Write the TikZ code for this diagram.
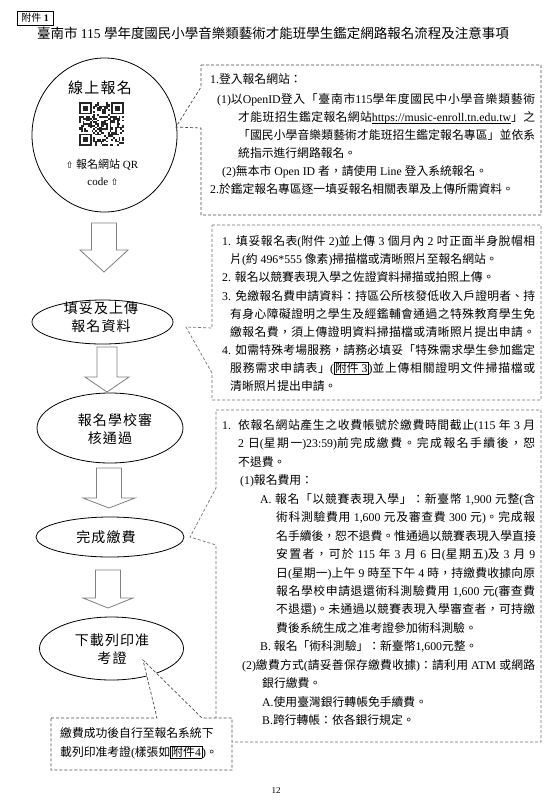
\documentclass[tikz,border=0pt]{standalone}
\usepackage{fontspec}
\usetikzlibrary{shapes.geometric}
\setmainfont{Liberation Serif}
\newfontfamily\cjkfam{Noto Sans CJK TC}
\newfontfamily\cjkwide[LetterSpace=8]{Noto Sans CJK TC}
\newfontfamily\symfam{DejaVu Sans}
\XeTeXinterchartokenstate=1
\newXeTeXintercharclass\CJKcls
\newcount\cjkc
\newcommand\cjkrange[2]{\cjkc=#1\relax\loop\XeTeXcharclass\cjkc=\CJKcls\relax\advance\cjkc by 1\relax\ifnum\cjkc<#2\relax\repeat}
\cjkrange{"3000}{"3040}
\cjkrange{"4E00}{"A000}
\cjkrange{"FF00}{"FFF0}
\XeTeXinterchartoks 0 \CJKcls = {\cjkfam}
\XeTeXinterchartoks 4095 \CJKcls = {\cjkfam}
\XeTeXinterchartoks \CJKcls 0 = {\rmfamily}
\XeTeXinterchartoks \CJKcls 4095 = {\rmfamily}
\XeTeXinterchartoks \CJKcls \CJKcls = {\hskip 0pt plus 2pt\relax}
\newcommand\kbox[1]{{\setlength\fboxsep{0.6pt}\setlength\fboxrule{0.5pt}\fbox{#1}}}
\newsavebox\ulbox
\newcommand\ulink[1]{\sbox\ulbox{\rmfamily #1}\rlap{\rule[-1.6pt]{\wd\ulbox}{0.55pt}}\usebox\ulbox}
\newcommand\setfs[2]{\XeTeXinterchartokenstate=1 \fontsize{#1}{#2}\selectfont}
\newcommand\txtline[4]{\node[cline] (#1) at (#2,#3) {#4};}
\newcommand\jtxtline[4]{\node[cline] (#1) at (#2,#3) {\hbox to \dimexpr 535pt-#2pt\relax{#4}};}
\newcommand\blockarrow[6]{\draw[barr] (#1-#3,#2) -- (#1+#3,#2) -- (#1+#3,#4) -- (#1+#5,#4) -- (#1,#6) -- (#1-#5,#4) -- (#1-#3,#4) -- cycle;}
\tikzset{
  ell/.style={draw=black, line width=0.8pt, ellipse, inner sep=0pt, fill=white},
  barr/.style={draw=black!50, line width=0.8pt, fill=white, line join=miter},
  callout/.style={draw=black!70, fill=white, line width=0.7pt, dash pattern=on 3pt off 2pt},
  calloutb/.style={callout, draw=black!55},
  cline/.style={anchor=base west, inner sep=0pt, font={\setfs{11.8}{14}}},
  etext/.style={align=center, inner sep=0pt, font={\XeTeXinterchartokenstate=0 \cjkwide\fontsize{#1}{18}\selectfont}},
  etext/.default=14,
}
\begin{document}
\begin{tikzpicture}[x=1pt,y=-1pt]
\useasboundingbox (0,0) rectangle (550,804);
\fill[white] (0,0) rectangle (550,804);

% header
\node[draw=black, line width=0.6pt, inner sep=0pt, minimum width=36, minimum height=14, font={\setfs{10}{12}}] (tag) at (35,18) {附件 \textbf{1}};
\node[inner sep=0pt, font={\setfs{13.5}{16}}] (title) at (273,33) {臺南市 115 學年度國民小學音樂類藝術才能班學生鑑定網路報名流程及注意事項};

% ellipses
\node[ell, minimum width=145, minimum height=154] (e1) at (104.5,135) {};
\node[ell, minimum width=141, minimum height=44] (e2) at (102.5,322) {};
\node[ell, minimum width=146, minimum height=70] (e3) at (110,428) {};
\node[ell, minimum width=148, minimum height=40] (e4) at (110,537) {};
\node[ell, minimum width=144, minimum height=63] (e5) at (111.5,648.5) {};

% QR code
\begin{scope}[shift={(79,102)}]
  \pgfmathsetseed{4}
  \foreach \i in {0,...,24}{\foreach \j in {0,...,24}{
    \pgfmathrandominteger{\rv}{0}{1}
    \pgfmathtruncatemacro{\ok}{and(equal(\rv,1), not(or(and(\i<8,\j<8),or(and(\i>16,\j<8),and(\i<8,\j>16)))))}
    \ifnum\ok=1 \fill[black!85] (\i*1.8,\j*1.75) rectangle ++(1.8,1.75);\fi
  }}
  \foreach \a/\b in {0/0,18/0,0/18}{
    \fill[black!85] (\a*1.8,\b*1.75) rectangle ++(7*1.8,7*1.75);
    \fill[white] (\a*1.8+1.8,\b*1.75+1.75) rectangle ++(5*1.8,5*1.75);
    \fill[black!85] (\a*1.8+3.6,\b*1.75+3.5) rectangle ++(3*1.8,3*1.75);
  }
\end{scope}

% ellipse texts
\node[etext=15] (t1) at (100,88) {線上報名};
\node[inner sep=0pt, font={\setfs{11}{14}}] (q1) at (102,165) {{\symfam\fontsize{9}{10}\selectfont ⇧} 報名網站 QR};
\node[inner sep=0pt, font={\setfs{11}{14}}] (q2) at (103,182) {code {\symfam\fontsize{9}{10}\selectfont ⇧}};
\node[etext] (t2) at (101,317.5) {填妥及上傳\\報名資料};
\node[etext] (t3a) at (115,420) {報名學校審};
\node[etext] (t3b) at (110,438) {核通過};
\node[etext] (t4) at (106,537) {完成繳費};
\node[etext] (t5) at (112,649) {下載列印准\\考證};

% block arrows
\blockarrow{104}{223}{12.5}{250}{24}{272}
\blockarrow{107}{347}{10}{377}{22}{392}
\blockarrow{109}{468}{12.5}{498}{26}{508}
\blockarrow{108}{570}{12.5}{598}{25}{608}

% callouts
\draw[callout] (201,65) -- (541,65) -- (541,215) -- (201,215) -- (201,128) -- (176,127) -- (201,87) -- cycle;
\draw[calloutb] (212,225) -- (541,225) -- (541,400) -- (212,400) -- (212,373) -- (186,327) -- (212,328) -- cycle;
\draw[calloutb] (216,410) -- (541,410) -- (541,742) -- (216,742) -- (216,545) -- (190,537) -- (216,488) -- cycle;
\draw[callout] (51,718) -- (157,718) -- (143,660) -- (202,718) -- (232,718) -- (232,770) -- (51,770) -- cycle;

% callout 1 text
\txtline{a1}{210}{83.5}{1.登入報名網站：}
\jtxtline{a2}{217}{103.5}{(1)以OpenID登入「臺南市115學年度國民中小學音樂類藝術}
\jtxtline{a3}{238}{121.5}{才能班招生鑑定報名網站\ulink{https://music-enroll.tn.edu.tw}」之}
\jtxtline{a4}{238}{139.5}{「國民小學音樂類藝術才能班招生鑑定報名專區」並依系}
\txtline{a5}{238}{157.5}{統指示進行網路報名。}
\txtline{a6}{222}{175.5}{(2)無本市 Open ID 者，請使用 Line 登入系統報名。}
\txtline{a7}{210}{193.5}{2.於鑑定報名專區逐一填妥報名相關表單及上傳所需資料。}

% callout 2 text
\jtxtline{b1}{222}{245.5}{1. 填妥報名表(附件 2)並上傳 3 個月內 2 吋正面半身脫帽相}
\txtline{b2}{230}{263.5}{片(約 496*555 像素)掃描檔或清晰照片至報名網站。}
\txtline{b3}{222}{281.5}{2. 報名以競賽表現入學之佐證資料掃描或拍照上傳。}
\jtxtline{b4}{222}{300.5}{3. 免繳報名費申請資料：持區公所核發低收入戶證明者、持}
\jtxtline{b5}{230}{318.5}{有身心障礙證明之學生及經鑑輔會通過之特殊教育學生免}
\jtxtline{b6}{230}{336.5}{繳報名費，須上傳證明資料掃描檔或清晰照片提出申請。}
\jtxtline{b7}{222}{354.5}{4. 如需特殊考場服務，請務必填妥「特殊需求學生參加鑑定}
\jtxtline{b8}{230}{372.5}{服務需求申請表」(\kbox{附件 3})並上傳相關證明文件掃描檔或}
\txtline{b9}{230}{390.5}{清晰照片提出申請。}

% callout 3 text
\txtline{c0}{222}{429.5}{1.}
\jtxtline{c1}{238}{429.5}{依報名網站產生之收費帳號於繳費時間截止(115 年 3 月}
\jtxtline{c2}{238}{447.9}{2 日(星期一)23:59)前完成繳費。完成報名手續後，恕}
\txtline{c3}{238}{466.4}{不退費。}
\txtline{c4}{240}{484.8}{(1)報名費用：}
\jtxtline{c5}{260}{503.3}{A. 報名「以競賽表現入學」：新臺幣 1,900 元整(含}
\jtxtline{c6}{276}{521.7}{術科測驗費用 1,600 元及審查費 300 元)。完成報}
\jtxtline{c7}{276}{540.1}{名手續後，恕不退費。惟通過以競賽表現入學直接}
\jtxtline{c8}{276}{558.6}{安置者，可於 115 年 3 月 6 日(星期五)及 3 月 9}
\jtxtline{c9}{276}{577.0}{日(星期一)上午 9 時至下午 4 時，持繳費收據向原}
\jtxtline{c10}{276}{595.5}{報名學校申請退還術科測驗費用 1,600 元(審查費}
\jtxtline{c11}{276}{613.9}{不退還)。未通過以競賽表現入學審查者，可持繳}
\txtline{c12}{276}{632.3}{費後系統生成之准考證參加術科測驗。}
\txtline{c13}{260}{650.8}{B. 報名「術科測驗」：新臺幣1,600元整。}
\jtxtline{c14}{242}{669.2}{(2)繳費方式(請妥善保存繳費收據)：請利用 ATM 或網路}
\txtline{c15}{262}{687.7}{銀行繳費。}
\txtline{c16}{262}{706.1}{A.使用臺灣銀行轉帳免手續費。}
\txtline{c17}{262}{724.5}{B.跨行轉帳：依各銀行規定。}

% callout 4 text
\txtline{d1}{60}{737.5}{繳費成功後自行至報名系統下}
\txtline{d2}{60}{756.5}{載列印准考證(樣張如\kbox{附件4})。}

% page number
\node[inner sep=0pt, font={\setfs{9}{11}}] (pg) at (276,791) {12};
\end{tikzpicture}
\end{document}
